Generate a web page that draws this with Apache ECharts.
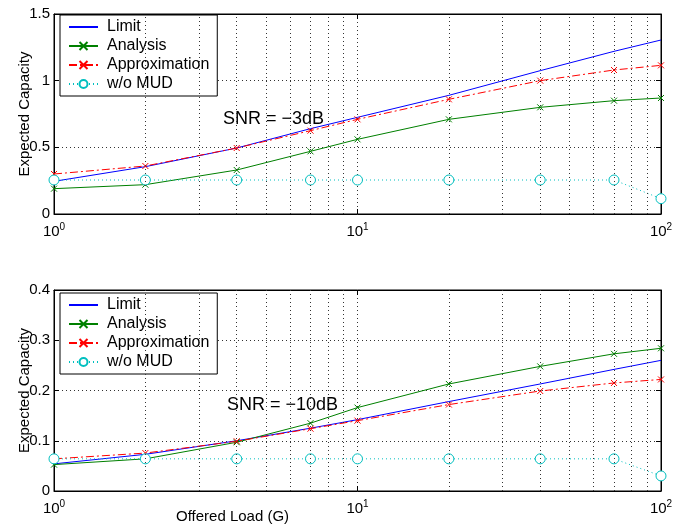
<!DOCTYPE html>
<html>
<head>
<meta charset="utf-8">
<script src="https://cdn.jsdelivr.net/npm/echarts@6/dist/echarts.min.js"></script>
<style>
  html, body { margin: 0; padding: 0; background: #fff; }
  #chart { width: 692px; height: 527px; }
</style>
</head>
<body>
<div id="chart"></div>
<script>
// offered load G (x values)
const loads = [1, 2, 4, 7, 10, 20, 40, 70, 100];
const seriesNames = ['Limit', 'Analysis', 'Approximation', 'w/o MUD'];

// SNR = -3dB
const limitTop = [0.245, 0.355, 0.495, 0.64, 0.725, 0.89, 1.075, 1.22, 1.305];
const analysisTop = [0.19, 0.22, 0.33, 0.47, 0.56, 0.71, 0.80, 0.85, 0.87];
const approxTop = [0.30, 0.36, 0.495, 0.625, 0.71, 0.86, 1.0, 1.08, 1.115];
const noMudTop = [0.255, 0.255, 0.255, 0.255, 0.255, 0.255, 0.255, 0.255, 0.115];

// SNR = -10dB
const limitBot = [0.054, 0.073, 0.1, 0.125, 0.142, 0.178, 0.213, 0.242, 0.26];
const analysisBot = [0.0525, 0.064, 0.097, 0.135, 0.166, 0.213, 0.248, 0.273, 0.284];
const approxBot = [0.064, 0.0755, 0.099, 0.124, 0.14, 0.172, 0.199, 0.215, 0.222];
const noMudBot = [0.064, 0.064, 0.064, 0.064, 0.064, 0.064, 0.064, 0.064, 0.03];

// log grid lines between decades
const minorTicks = [2, 3, 4, 5, 6, 7, 8, 9, 20, 30, 40, 50, 60, 70, 80, 90];

const FONT = 'Liberation Sans, Arial, Helvetica, sans-serif';
const crossSymbol = 'path://M0,0L10,10M10,0L0,10';

const pairs = arr => loads.map((x, i) => [x, arr[i]]);

const gridLine = { show: true, lineStyle: { color: '#333', type: [1, 3], width: 1 } };

const makeXAxes = (gridIndex) => ([
  {
    gridIndex, type: 'log', logBase: 10, min: 1, max: 100,
    axisLine: { onZero: false, lineStyle: { color: '#000' } },
    axisTick: { inside: true, length: 5, lineStyle: { color: '#000' } },
    axisLabel: {
      color: '#000', margin: 8,
      formatter: v => '{b|10}{s|' + Math.round(Math.log10(v)) + '}',
      rich: {
        b: { fontSize: 15, fontFamily: FONT, color: '#000' },
        s: { fontSize: 10, fontFamily: FONT, color: '#000', padding: [0, 0, 10, 0] }
      }
    },
    splitLine: gridLine
  },
  {
    gridIndex, type: 'log', logBase: 10, min: 1, max: 100, position: 'top',
    axisLine: { onZero: false, lineStyle: { color: '#000' } },
    axisTick: { inside: true, length: 5, lineStyle: { color: '#000' } },
    axisLabel: { show: false },
    splitLine: { show: false }
  }
]);

const makeYAxes = (gridIndex, max, interval) => ([
  {
    gridIndex, type: 'value', min: 0, max, interval,
    name: 'Expected Capacity', nameLocation: 'middle', nameGap: 22, nameMoveOverlap: false,
    nameTextStyle: { fontSize: 15, fontFamily: FONT, color: '#000' },
    axisLine: { show: true, lineStyle: { color: '#000' } },
    axisTick: { show: true, inside: true, length: 5, lineStyle: { color: '#000' } },
    axisLabel: { color: '#000', fontSize: 15, fontFamily: FONT, margin: 4 },
    splitLine: gridLine
  },
  {
    gridIndex, type: 'value', min: 0, max, interval, position: 'right',
    axisLine: { show: true, lineStyle: { color: '#000' } },
    axisTick: { show: true, inside: true, length: 5, lineStyle: { color: '#000' } },
    axisLabel: { show: false },
    splitLine: { show: false }
  }
]);

const makeSeries = (idx, data) => {
  const [limit, analysis, approx, noMud] = data;
  const xi = idx * 2, yi = idx * 2;
  return [
    {
      name: 'Limit', type: 'line', xAxisIndex: xi, yAxisIndex: yi,
      data: pairs(limit), showSymbol: false, symbol: 'none',
      lineStyle: { color: '#0000ff', width: 1 }, itemStyle: { color: '#0000ff' },
      markLine: {
        silent: true, symbol: ['none', 'none'], label: { show: false },
        lineStyle: { color: '#333', type: [1, 3], width: 1 },
        emphasis: { disabled: true },
        data: minorTicks.map(v => ({ xAxis: v }))
      }
    },
    {
      name: 'Analysis', type: 'line', xAxisIndex: xi, yAxisIndex: yi,
      data: pairs(analysis), symbol: crossSymbol, symbolSize: 6,
      lineStyle: { color: '#008000', width: 1 },
      itemStyle: { color: '#008000', borderColor: '#008000', borderWidth: 1 }
    },
    {
      name: 'Approximation', type: 'line', xAxisIndex: xi, yAxisIndex: yi,
      data: pairs(approx), symbol: crossSymbol, symbolSize: 6,
      lineStyle: { color: '#ff0000', width: 1, type: [8, 3, 2, 3] },
      itemStyle: { color: '#ff0000', borderColor: '#ff0000', borderWidth: 1 }
    },
    {
      name: 'w/o MUD', type: 'line', xAxisIndex: xi, yAxisIndex: yi,
      data: pairs(noMud), symbol: 'circle', symbolSize: 10,
      lineStyle: { color: '#00bfbf', width: 1, type: [1, 3] },
      itemStyle: { color: '#fff', borderColor: '#00bfbf', borderWidth: 1 }
    }
  ];
};

const makeLegend = (top) => ({
  orient: 'vertical', left: 60, top,
  data: seriesNames.map(n => n === 'Limit'
    ? { name: n, itemStyle: { opacity: 0 } }
    : { name: n }),
  backgroundColor: '#fff', borderColor: '#000', borderWidth: 1, borderRadius: 0,
  padding: [4, 8, 4, 8],
  itemWidth: 29, itemHeight: 10, itemGap: 3,
  textStyle: { fontSize: 16, fontFamily: FONT, color: '#000', lineHeight: 16, padding: [0, 0, 0, 4] },
  selectedMode: false
});

const chart = echarts.init(document.getElementById('chart'), null, { renderer: 'canvas' });

chart.setOption({
  animation: false,
  backgroundColor: '#fff',
  grid: [
    { left: 54, top: 14, width: 607, height: 200, show: true, borderColor: '#000', borderWidth: 1 },
    { left: 54, top: 290, width: 607, height: 201, show: true, borderColor: '#000', borderWidth: 1 }
  ],
  xAxis: [...makeXAxes(0), ...makeXAxes(1)],
  yAxis: [...makeYAxes(0, 1.5, 0.5), ...makeYAxes(1, 0.4, 0.1)],
  legend: [makeLegend(15), makeLegend(293)],
  series: [
    ...makeSeries(0, [limitTop, analysisTop, approxTop, noMudTop]),
    ...makeSeries(1, [limitBot, analysisBot, approxBot, noMudBot])
  ],
  graphic: [
    { type: 'text', left: 223, top: 110, style: { text: 'SNR = \u22123dB', fontSize: 18, fontFamily: FONT, fill: '#000' } },
    { type: 'text', left: 227, top: 396, style: { text: 'SNR = \u221210dB', fontSize: 18, fontFamily: FONT, fill: '#000' } },
    { type: 'text', left: 176, top: 509, style: { text: 'Offered Load (G)', fontSize: 15, fontFamily: FONT, fill: '#000' } }
  ]
});
</script>
</body>
</html>
